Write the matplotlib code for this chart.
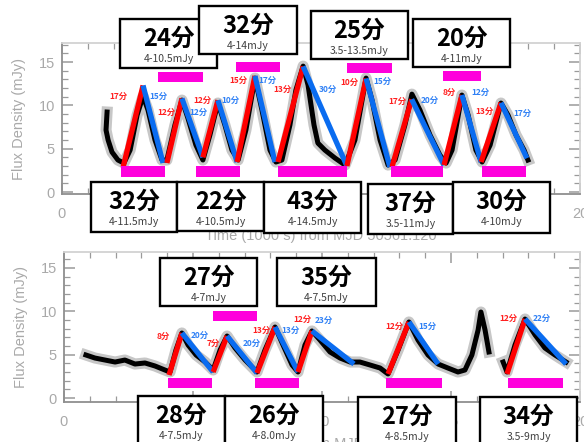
import matplotlib
matplotlib.use("Agg")
import matplotlib.pyplot as plt
from matplotlib.patches import Rectangle
from matplotlib.ticker import MultipleLocator
import matplotlib.patheffects as pe

plt.rcParams['font.family'] = ['Noto Sans CJK JP', 'DejaVu Sans']

# ---------------- data ----------------
# light curve traces (time in 1000 s, flux density in mJy)
top_trace_t = [1.74, 1.70, 1.78, 1.93, 2.16, 2.39, 2.63, 2.90, 3.13, 3.32, 3.59, 3.86, 4.05, 4.36, 4.63,
               4.86, 5.17, 5.44, 5.71, 6.02, 6.29, 6.56, 6.80, 7.10, 7.45, 7.72, 8.03, 8.26, 8.49, 8.80,
               9.03, 9.31, 9.50, 9.73, 9.88, 10.15, 10.54, 10.93, 11.31, 11.74, 11.97, 12.28, 12.59,
               12.86, 13.24, 13.51, 13.82, 14.21, 14.59, 14.83, 15.06, 15.44, 15.68, 15.98, 16.22,
               16.53, 16.95, 17.22, 17.53, 17.84, 17.99]
top_trace_f = [9.23, 7.15, 6.00, 4.61, 3.69, 3.34, 4.84, 8.88, 11.07, 9.46, 6.00, 3.69, 3.69, 7.73, 10.61,
               8.54, 5.42, 3.69, 6.57, 10.27, 7.73, 4.84, 3.69, 7.15, 13.15, 9.46, 4.84, 3.46, 3.69, 7.73,
               11.76, 14.53, 12.34, 7.73, 5.65, 4.84, 3.92, 3.11, 6.00, 13.15, 10.61, 6.00, 3.11,
               3.69, 7.73, 11.30, 9.46, 6.57, 4.27, 3.34, 4.84, 11.19, 8.88, 4.84, 3.46,
               5.42, 10.27, 8.88, 6.57, 4.84, 3.69]

bot_trace_t = [0.85, 1.20, 1.59, 1.98, 2.36, 2.75, 3.14, 3.53, 3.91, 4.11, 4.34, 4.57, 4.81, 5.12, 5.47,
               5.78, 6.05, 6.32, 6.63, 7.02, 7.48, 7.79, 8.18, 8.49, 8.84, 9.07, 9.34, 9.61, 9.92, 10.31,
               10.70, 11.09, 11.47, 11.86, 12.25, 12.56, 12.95, 13.37, 13.72, 14.11, 14.50, 14.88, 15.27,
               15.54, 15.81, 16.05, 16.16, 16.32, 16.47]
bot_trace_f = [4.96, 4.61, 4.38, 4.15, 4.38, 3.92, 4.04, 3.69, 3.23, 3.00, 5.54, 7.50, 6.11, 4.96, 4.15,
               3.23, 5.54, 7.15, 5.77, 4.38, 3.00, 5.54, 8.19, 6.11, 3.81, 3.00, 6.11, 7.73, 6.69, 5.31,
               4.61, 4.15, 4.15, 3.81, 3.46, 2.77, 5.54, 8.77, 6.69, 4.96, 3.92, 3.46, 3.00,
               3.23, 4.96, 7.84, 9.92, 7.84, 5.31]
bot_trace2_t = [17.02, 17.17, 17.48, 17.87, 18.26, 18.64, 19.03, 19.46]
bot_trace2_f = [4.15, 3.00, 6.11, 9.11, 7.27, 5.77, 4.96, 4.15]

# rise / decay segments of each oscillation (upper panel)
top_rise_t = [2.36, 4.05, 5.44, 6.76, 8.34, 11.00, 12.74, 14.75, 16.18]
top_rise_f = [2.88, 3.35, 4.00, 3.46, 3.46, 3.00, 2.88, 3.10, 3.46]
top_peak_t = [3.13, 4.63, 6.02, 7.45, 9.31, 11.74, 13.50, 15.44, 16.95]
top_peak_f = [12.3, 10.8, 10.6, 13.4, 14.5, 13.1, 10.7, 11.2, 10.3]
top_end_t = [3.90, 5.44, 6.76, 8.22, 11.00, 12.66, 14.75, 16.18, 17.95]
top_end_f = [3.35, 4.00, 3.46, 3.46, 3.00, 2.88, 3.10, 3.46, 3.90]
top_rise_min = [17, 12, 12, 15, 13, 10, 17, 8, 13]
top_fall_min = [15, 12, 10, 17, 30, 15, 20, 12, 17]
top_range = ["4-11.5mJy", "4-10.5mJy", "4-10.5mJy", "4-14mJy", "4-14.5mJy",
             "3.5-13.5mJy", "3.5-11mJy", "4-11mJy", "4-10mJy"]
top_span_start = [2.28, 3.71, 5.17, 6.72, 8.34, 11.00, 12.70, 14.71, 16.22]
top_span_end = [3.98, 5.44, 6.87, 8.42, 11.00, 12.74, 14.71, 16.18, 17.92]

# lower panel
bot_rise_t = [4.07, 5.78, 7.48, 9.07, 12.56, 17.17]
bot_rise_f = [2.65, 3.00, 2.88, 3.00, 2.77, 2.77]
bot_peak_t = [4.57, 6.32, 8.18, 9.61, 13.37, 17.87]
bot_peak_f = [7.50, 7.15, 8.19, 7.73, 8.77, 9.11]
bot_end_t = [5.78, 7.48, 9.07, 11.24, 14.50, 19.46]
bot_end_f = [3.00, 2.88, 3.00, 3.92, 3.92, 3.92]
bot_rise_min = [8, 7, 13, 12, 12, 12]
bot_fall_min = [20, 20, 13, 23, 15, 22]
bot_range = ["4-7.5mJy", "4-7mJy", "4-8.0mJy", "4-7.5mJy", "4-8.5mJy", "3.5-9mJy"]
bot_span_start = [4.03, 5.78, 7.40, None, 12.48, 17.21]
bot_span_end = [5.74, 7.48, 9.11, None, 14.65, 19.34]

# ---------------- layout ----------------
W, H = 584, 442
RED, BLUE, MAGENTA = '#ff0000', '#0a6cf0', '#ff00dc'
RED_TXT, BLUE_TXT = '#ff2020', '#2f80f5'
GREY = '#a9a9a9'

# vertical placement of period bars (mJy) per cycle
top_span_lo = [1.73, 12.7, 1.73, 13.8, 1.73, 13.7, 1.73, 12.8, 1.73]
top_span_hi = [3.00, 13.8, 3.00, 15.0, 3.00, 14.9, 3.00, 14.0, 3.00]
bot_span_lo = [1.15, 8.88, 1.15, None, 1.15, 1.15]
bot_span_hi = [2.31, 10.03, 2.31, None, 2.31, 2.31]

# minute-label anchors (data units) beside the rise (red) and decay (blue) lines
top_rlab_x = [2.16, 4.02, 5.41, 6.83, 8.53, 11.08, 12.97, 14.94, 16.33]
top_rlab_y = [10.96, 9.11, 10.50, 12.80, 11.76, 12.57, 10.38, 11.42, 9.23]
top_blab_x = [3.71, 5.25, 6.49, 7.95, 10.27, 12.36, 14.21, 16.14, 17.76]
top_blab_y = [10.96, 9.11, 10.50, 12.80, 11.76, 12.69, 10.50, 11.42, 9.00]
bot_rlab_x = [3.84, 5.78, 7.64, 9.26, 12.79, 17.21]
bot_rlab_y = [7.04, 6.23, 7.73, 9.00, 8.19, 9.11]
bot_blab_x = [5.27, 7.29, 8.76, 10.08, 14.07, 18.53]
bot_blab_y = [7.15, 6.23, 7.73, 8.88, 8.19, 9.11]

# label boxes in pixels (left, right, top, bottom)
top_boxes = [(91, 177, 182, 232), (120, 217, 19, 68), (177, 264, 182, 231), (199, 297, 6, 54),
             (264, 361, 182, 233), (311, 408, 11, 59), (368, 453, 184, 234), (413, 510, 19, 67),
             (453, 550, 182, 233)]
bot_boxes = [(138, 225, 396, 450), (160, 257, 258, 306), (225, 323, 396, 450), (277, 376, 258, 306),
             (358, 456, 397, 450), (480, 577, 397, 450)]

fig = plt.figure(figsize=(W / 100, H / 100), dpi=100)


def frac_rect(left, right, top, bottom):
    return [left / W, 1 - bottom / H, (right - left) / W, (bottom - top) / H]


ax1 = fig.add_axes(frac_rect(62, 580, 43, 194))
ax2 = fig.add_axes(frac_rect(64, 580, 252, 402))


def style_axes(ax, ylo, yhi):
    ax.set_xlim(0, 20)
    ax.set_ylim(ylo, yhi)
    for side, s in ax.spines.items():
        s.set_linewidth(1.3)
        s.set_color('#8f8f8f' if side in ('left', 'bottom') else '#d2d2d2')
    ax.set_xticks([0, 5, 10, 15, 20])
    ax.set_yticks([0, 5, 10, 15])
    ax.xaxis.set_minor_locator(MultipleLocator(1))
    ax.yaxis.set_minor_locator(MultipleLocator(1))
    ax.tick_params(which='both', direction='in', top=True, right=True, color='#9a9a9a',
                   labelcolor=GREY, labelsize=10.5, labelfontfamily='Liberation Sans')
    ax.tick_params(which='major', length=8, width=1.1)
    ax.tick_params(which='minor', length=4, width=0.9)
    ax.tick_params(axis='y', pad=5)
    ax.tick_params(axis='x', pad=9)
    ax.set_ylabel('Flux Density (mJy)', color=GREY, fontsize=10.5, labelpad=9,
                  family='Liberation Sans')
    ax.set_xlabel('Time (1000 s) from MJD 50561.120', color=GREY, fontsize=10.5, labelpad=6,
                  family='Liberation Sans')


style_axes(ax1, -0.23, 17.2)
style_axes(ax2, -0.46, 16.84)

trace_fx = [pe.Stroke(linewidth=8, foreground='black', alpha=0.22), pe.Normal()]
for ax, tt, ff in ((ax1, top_trace_t, top_trace_f), (ax2, bot_trace_t, bot_trace_f),
                   (ax2, bot_trace2_t, bot_trace2_f)):
    ax.plot(tt, ff, color='black', lw=3.6, solid_joinstyle='round', path_effects=trace_fx, zorder=2)


def draw_cycles(ax, rt, rf, pt, pf, et, ef, rmin, fmin, s0, s1, slo, shi, rlx, rly, blx, bly):
    for i in range(len(rt)):
        ax.plot([rt[i], pt[i]], [rf[i], pf[i]], color=RED, lw=3.8, solid_capstyle='butt', zorder=3)
        ax.plot([pt[i], et[i]], [pf[i], ef[i]], color=BLUE, lw=3.8, solid_capstyle='butt', zorder=3)
        ax.text(rlx[i], rly[i], f"{rmin[i]}分", ha='center', va='center',
                color=RED_TXT, fontsize=6, fontweight='bold', zorder=5)
        ax.text(blx[i], bly[i], f"{fmin[i]}分", ha='center', va='center',
                color=BLUE_TXT, fontsize=6, fontweight='bold', zorder=5)
        if s0[i] is not None:
            ax.add_patch(Rectangle((s0[i], slo[i]), s1[i] - s0[i], shi[i] - slo[i],
                                   facecolor=MAGENTA, edgecolor='none', zorder=4))


draw_cycles(ax1, top_rise_t, top_rise_f, top_peak_t, top_peak_f, top_end_t, top_end_f,
            top_rise_min, top_fall_min, top_span_start, top_span_end, top_span_lo, top_span_hi,
            top_rlab_x, top_rlab_y, top_blab_x, top_blab_y)
draw_cycles(ax2, bot_rise_t, bot_rise_f, bot_peak_t, bot_peak_f, bot_end_t, bot_end_f,
            bot_rise_min, bot_fall_min, bot_span_start, bot_span_end, bot_span_lo, bot_span_hi,
            bot_rlab_x, bot_rlab_y, bot_blab_x, bot_blab_y)


def draw_boxes(boxes, rmin, fmin, ranges, z0):
    for i, (l, r, t, b) in enumerate(boxes):
        z = z0 + 3 * i
        fig.add_artist(Rectangle((l / W, 1 - b / H), (r - l) / W, (b - t) / H,
                                 transform=fig.transFigure, facecolor='white', edgecolor='black',
                                 linewidth=1.7, zorder=z))
        cx = (l + r) / 2 / W
        fig.text(cx, 1 - (t + 20) / H, f"{rmin[i] + fmin[i]}分", ha='center', va='center',
                 fontsize=17, fontweight='bold', color='black', zorder=z + 1)
        fig.text(cx, 1 - (t + 40) / H, ranges[i], ha='center', va='center',
                 fontsize=7.5, color='#404040', zorder=z + 1)


draw_boxes(top_boxes, top_rise_min, top_fall_min, top_range, 10)
draw_boxes(bot_boxes, bot_rise_min, bot_fall_min, bot_range, 60)

fig.savefig('out.png', dpi=100)
